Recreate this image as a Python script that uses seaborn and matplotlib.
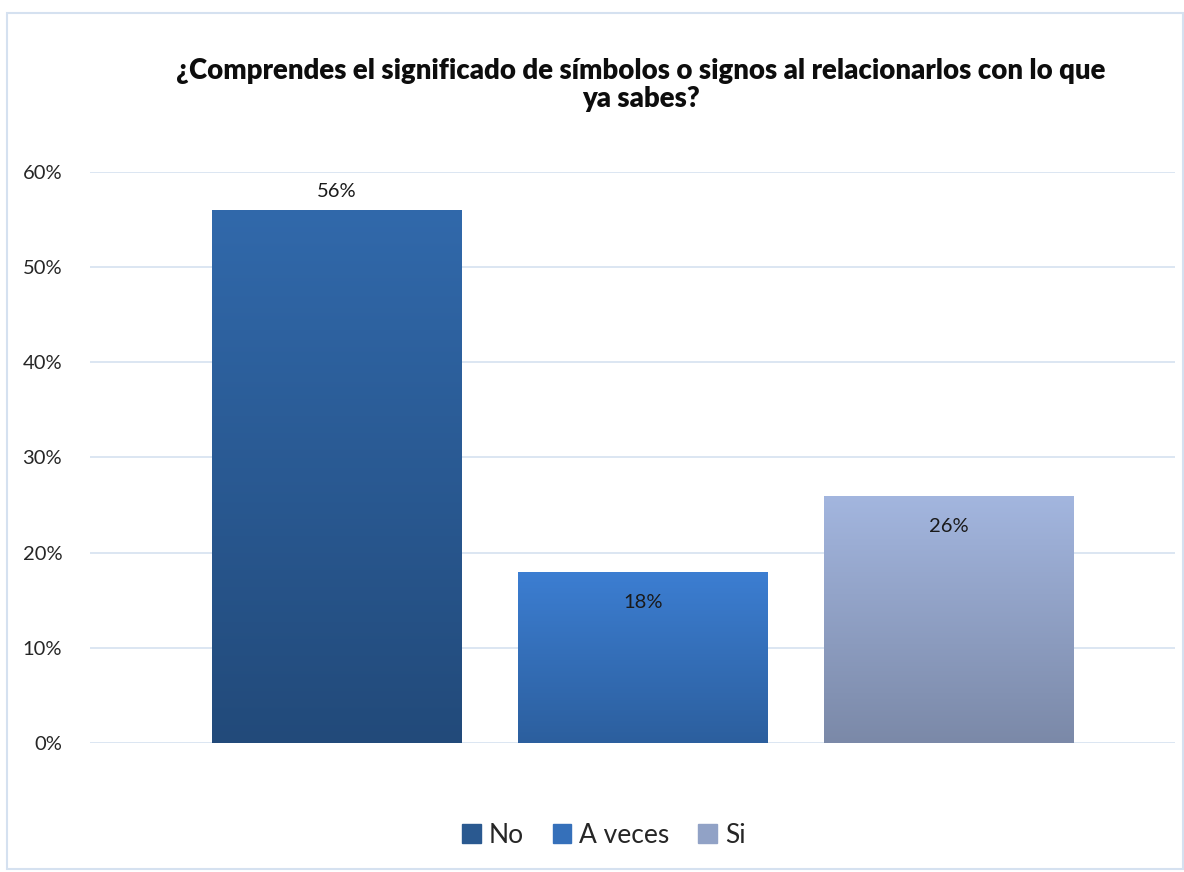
import numpy as np
import pandas as pd
import matplotlib.pyplot as plt
import matplotlib.colors as mcolors
from matplotlib.patches import Rectangle
import seaborn as sns

# Chart data
categories = ['No', 'A veces', 'Si']
values = [0.56, 0.18, 0.26]
label_text = ['56%', '18%', '26%']

# gradient colours for each bar (top, bottom)
top_colors = ['#3169AB', '#3C7ED2', '#A3B6DF']
bottom_colors = ['#224A7A', '#2C5F9E', '#7B89A8']

df = pd.DataFrame({'respuesta': categories, 'valor': values})

sns.set_theme(style='white')
plt.rcParams['font.family'] = ['Lato', 'DejaVu Sans']

fig = plt.figure(figsize=(11.84, 8.72), dpi=100)
ax = fig.add_axes([0.076, 0.1479, 0.9165, 0.6549])

sns.barplot(data=df, x='respuesta', y='valor', hue='respuesta',
            palette=top_colors, width=0.814, legend=False, ax=ax)

# replace flat fill with vertical gradients
for patch, c_top, c_bot in zip(ax.patches, top_colors, bottom_colors):
    x0, y0 = patch.get_x(), patch.get_y()
    w, h = patch.get_width(), patch.get_height()
    cmap = mcolors.LinearSegmentedColormap.from_list('g', [c_bot, c_top])
    grad = np.linspace(0, 1, 256).reshape(-1, 1)
    im = ax.imshow(grad, cmap=cmap, origin='lower', aspect='auto',
                   extent=[x0, x0 + w, y0, y0 + h], zorder=2)
    im.set_clip_path(patch)
    patch.set_facecolor('none')
    patch.set_edgecolor('none')

ax.set_xlim(-0.807, 2.739)
ax.set_ylim(0, 0.6)
ax.set_yticks(np.arange(0, 0.61, 0.1))
ax.set_yticklabels([f'{int(round(t * 100))}%' for t in np.arange(0, 0.61, 0.1)],
                   fontsize=14.5, color='#262626')
ax.tick_params(axis='y', length=0, pad=20)
ax.set_xticks([])
ax.set_xlabel('')
ax.set_ylabel('')
ax.grid(axis='y', color='#D5E1F0', linewidth=1.2)
ax.set_axisbelow(True)
for s in ax.spines.values():
    s.set_visible(False)

# data labels: first above the bar, others inside near the top
offsets = [13, -22, -22]
for i, (v, t) in enumerate(zip(values, label_text)):
    ax.annotate(t, (i, v), xytext=(0, offsets[i]), textcoords='offset points',
                ha='center', va='center', fontsize=14.5, color='#1a1a1a')

fig.text(0.541, 0.903, '¿Comprendes el significado de símbolos o signos al relacionarlos con lo que\nya sabes?',
         ha='center', va='center', fontsize=19.8, fontweight='heavy',
         color='#0d0d0d', linespacing=1.1)

handles = [Rectangle((0, 0), 1, 1, color=c) for c in ['#2A5990', '#3570BA', '#91A2C6']]
fig.legend(handles, categories, loc='center', bbox_to_anchor=(0.51, 0.042),
           ncol=3, frameon=False, fontsize=19, handlelength=0.7, handleheight=0.7,
           handletextpad=0.3, columnspacing=1.1)

# outer chart border
fig.patches.append(Rectangle((0.006, 0.004), 0.993, 0.981, transform=fig.transFigure,
                             fill=False, edgecolor='#D5E1F0', linewidth=1.5))

fig.savefig('out.png', dpi=100)
